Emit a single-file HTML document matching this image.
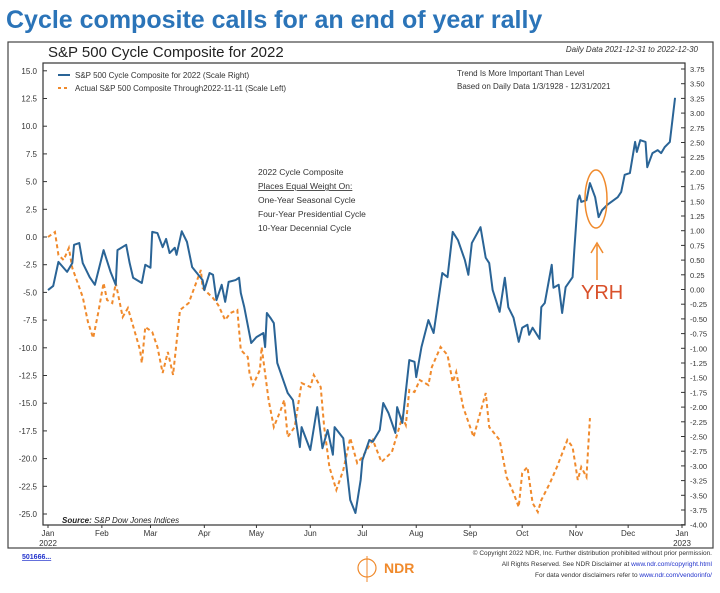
<!DOCTYPE html>
<html><head><meta charset="utf-8"><style>
body{margin:0;background:#fff;width:720px;height:588px;overflow:hidden;font-family:"Liberation Sans",sans-serif}
</style></head><body>
<svg width="720" height="588" viewBox="0 0 720 588" xmlns="http://www.w3.org/2000/svg" font-family="Liberation Sans, sans-serif">
<text x="6" y="28" font-size="25" font-weight="bold" fill="#2b74b8">Cycle composite calls for an end of year rally</text>
<rect x="8" y="42" width="705" height="506" fill="none" stroke="#444" stroke-width="1.2"/>
<text x="48" y="57" font-size="15" fill="#222">S&amp;P 500 Cycle Composite for 2022</text>
<text x="698" y="52" font-size="8" font-style="italic" text-anchor="end" fill="#333">Daily Data 2021-12-31 to 2022-12-30</text>
<rect x="43" y="63" width="642" height="462" fill="none" stroke="#333" stroke-width="1.2"/>
<g id="axes"></g>
<g id="series"></g>
<g font-size="8" fill="#333">
<line x1="58" y1="75" x2="70" y2="75" stroke="#2a6496" stroke-width="2"/>
<text x="75" y="78">S&amp;P 500 Cycle Composite for 2022 (Scale Right)</text>
<line x1="58" y1="88" x2="70" y2="88" stroke="#f08a2c" stroke-width="2" stroke-dasharray="3,3"/>
<text x="75" y="91">Actual S&amp;P 500 Composite Through2022-11-11 (Scale Left)</text>
</g>
<g font-size="8" fill="#333">
<text x="457" y="76">Trend Is More Important Than Level</text>
<text x="457" y="89">Based on Daily Data 1/3/1928 - 12/31/2021</text>
</g>
<g font-size="8.5" fill="#333">
<text x="258" y="175">2022 Cycle Composite</text>
<text x="258" y="189" text-decoration="underline">Places Equal Weight On:</text>
<text x="258" y="203">One-Year Seasonal Cycle</text>
<text x="258" y="217">Four-Year Presidential Cycle</text>
<text x="258" y="231">10-Year Decennial Cycle</text>
</g>
<text x="62" y="523" font-size="8" font-style="italic" fill="#222"><tspan font-weight="bold">Source:</tspan>   S&amp;P Dow Jones Indices</text>
<ellipse cx="596" cy="199" rx="11" ry="29" fill="none" stroke="#f08a2c" stroke-width="1.5"/>
<line x1="597" y1="280" x2="597" y2="245" stroke="#f08a2c" stroke-width="1.5"/>
<path d="M591,253 L597,243 L603,253" fill="none" stroke="#f08a2c" stroke-width="1.5"/>
<text x="581" y="299" font-size="20" fill="#d9502a">YRH</text>
<text x="22" y="559" font-size="7" fill="#2233cc" text-decoration="underline" font-weight="bold">501666...</text>
<g>
<circle cx="367" cy="568" r="9" fill="none" stroke="#f08a2c" stroke-width="1.2"/>
<line x1="367" y1="556" x2="367" y2="582" stroke="#f08a2c"/>
<text x="384" y="573" font-size="14" font-weight="bold" fill="#f08a2c">NDR</text>
</g>
<g font-size="6.5" fill="#333" text-anchor="end">
<text x="712" y="555">© Copyright 2022 NDR, Inc. Further distribution prohibited without prior permission.</text>
<text x="712" y="566">All Rights Reserved. See NDR Disclaimer at <tspan fill="#2233cc">www.ndr.com/copyright.html</tspan></text>
<text x="712" y="577">For data vendor disclaimers refer to <tspan fill="#2233cc">www.ndr.com/vendorinfo/</tspan></text>
</g>
</svg>
<script>
const leftTicks=[15,12.5,10,7.5,5,2.5,0,-2.5,-5,-7.5,-10,-12.5,-15,-17.5,-20,-22.5,-25];
const rightTicks=[3.75,3.5,3.25,3,2.75,2.5,2.25,2,1.75,1.5,1.25,1,0.75,0.5,0.25,0,-0.25,-0.5,-0.75,-1,-1.25,-1.5,-1.75,-2,-2.25,-2.5,-2.75,-3,-3.25,-3.5,-3.75,-4];
const monthLabels=["Jan","Feb","Mar","Apr","May","Jun","Jul","Aug","Sep","Oct","Nov","Dec","Jan"];
const monthDays=[0,31,59,90,120,151,181,212,243,273,304,334,365];
const compDays=[0,3,6,11,14,15,18,20,24,27,32,36,39,40,45,47,49,54,56,59,60,63,66,68,70,73,74,77,80,83,89,90,93,95,97,100,102,104,108,110,111,113,117,120,124,125,126,128,130,132,138,141,145,146,151,155,158,161,164,165,170,174,177,180,181,185,187,191,193,196,200,201,204,208,211,212,215,219,222,227,230,233,236,240,242,244,249,252,254,256,260,263,265,268,271,273,276,277,279,283,284,286,290,291,294,296,298,302,303,305,306,307,310,312,315,317,319,322,328,330,332,335,338,339,341,344,345,348,351,353,355,358,361];
const compValues=[-0.01,0.06,0.47,0.30,0.45,0.76,0.79,0.45,0.21,0.08,0.67,0.30,0.08,0.67,0.76,0.45,0.20,0.11,0.42,0.37,0.98,0.96,0.72,0.86,0.62,0.71,0.59,0.99,0.81,0.38,0.16,-0.01,0.28,0.25,-0.18,0.08,-0.21,0.13,0.16,0.20,-0.06,-0.30,-0.91,-0.81,-0.74,-0.98,-0.40,-0.48,-0.57,-1.25,-1.76,-1.88,-2.68,-2.34,-2.73,-2.00,-2.70,-2.39,-2.81,-2.34,-2.53,-3.58,-3.80,-3.24,-2.90,-2.56,-2.59,-2.39,-1.93,-2.10,-2.44,-2.00,-2.27,-1.20,-1.23,-1.49,-0.98,-0.52,-0.74,0.28,0.21,0.98,0.84,0.50,0.25,0.79,1.06,0.54,0.45,-0.01,-0.38,0.20,-0.30,-0.48,-0.89,-0.65,-0.60,-0.77,-0.65,-0.84,-0.30,-0.23,0.42,0.03,0.08,-0.40,0.04,0.21,0.67,1.52,1.60,1.49,1.52,1.81,1.57,1.23,1.35,1.44,1.57,1.66,1.95,1.98,2.51,2.34,2.54,2.51,2.08,2.32,2.37,2.32,2.42,2.51,3.26];
const actDays=[0,4,6,9,12,14,20,23,26,29,32,34,37,39,43,46,48,53,54,56,60,63,66,69,72,76,81,88,89,95,98,102,105,109,111,115,116,118,122,123,127,130,134,136,138,142,146,151,153,157,159,162,166,170,174,178,181,187,192,198,204,206,208,211,214,219,221,226,230,233,235,239,245,252,254,260,264,268,271,273,276,279,282,284,289,293,299,302,305,307,310,312];
const actValues=[0.0,0.45,-1.62,-2.08,-0.99,-2.80,-5.42,-7.67,-9.12,-6.77,-4.15,-5.69,-5.96,-4.15,-7.22,-6.41,-7.49,-10.20,-11.37,-8.12,-8.57,-9.93,-12.27,-10.38,-12.45,-6.59,-5.96,-2.98,-4.60,-5.51,-6.14,-7.49,-6.86,-6.59,-10.20,-10.83,-12.27,-13.36,-12.00,-9.93,-14.71,-17.15,-15.61,-14.71,-18.05,-17.15,-13.18,-13.54,-12.45,-13.54,-17.15,-20.76,-22.83,-21.03,-18.14,-20.40,-19.86,-18.32,-20.31,-19.40,-16.25,-16.97,-13.81,-13.99,-12.91,-13.36,-11.73,-9.93,-10.65,-13.09,-12.18,-15.34,-18.05,-14.08,-17.15,-18.32,-21.66,-23.10,-24.37,-21.30,-20.76,-24.01,-24.82,-23.74,-22.20,-20.76,-18.32,-18.95,-21.93,-20.76,-21.66,-16.34];

const NS="http://www.w3.org/2000/svg";
const xS=d=>48+d*(634/365);
const yL=v=>237-v*11.08;
const yR=v=>289.5-v*58.8;
const axes=document.getElementById('axes'), series=document.getElementById('series');
function mk(tag,attrs,parent){const e=document.createElementNS(NS,tag);for(const k in attrs)e.setAttribute(k,attrs[k]);parent.appendChild(e);return e;}
leftTicks.forEach(v=>{
  const t=mk('text',{x:37,y:yL(v)+3,'font-size':8,'text-anchor':'end',fill:'#333'},axes);
  
  
  t.textContent=v.toFixed(1);
  mk('line',{x1:43,x2:47,y1:yL(v),y2:yL(v),stroke:'#333'},axes);
});
rightTicks.forEach(v=>{
  const t=mk('text',{x:690,y:yR(v)+3,'font-size':7.5,fill:'#333'},axes);
  
  
  t.textContent=v.toFixed(2);
  mk('line',{x1:681,x2:685,y1:yR(v),y2:yR(v),stroke:'#333'},axes);
});
monthLabels.forEach((m,i)=>{
  const x=xS(monthDays[i]);
  const t=mk('text',{x:x,y:536,'font-size':8,'text-anchor':'middle',fill:'#333'},axes);
  
  
  t.textContent=m;
  mk('line',{x1:x,x2:x,y1:525,y2:528,stroke:'#333'},axes);
});
[[0,"2022"],[12,"2023"]].forEach(([i,y])=>{
  const t=mk('text',{x:xS(monthDays[i]),y:546,'font-size':8,'text-anchor':'middle',fill:'#333'},axes);
  
  
  t.textContent=y;
});
const pAct=mk('polyline',{points:actDays.map((d,i)=>xS(d)+','+yL(actValues[i])).join(' '),fill:'none',stroke:'#f08a2c','stroke-width':2,'stroke-dasharray':'4,3'},series);


const pComp=mk('polyline',{points:compDays.map((d,i)=>xS(d)+','+yR(compValues[i])).join(' '),fill:'none',stroke:'#2a6496','stroke-width':2,'stroke-linejoin':'round'},series);


</script>
</body></html>
